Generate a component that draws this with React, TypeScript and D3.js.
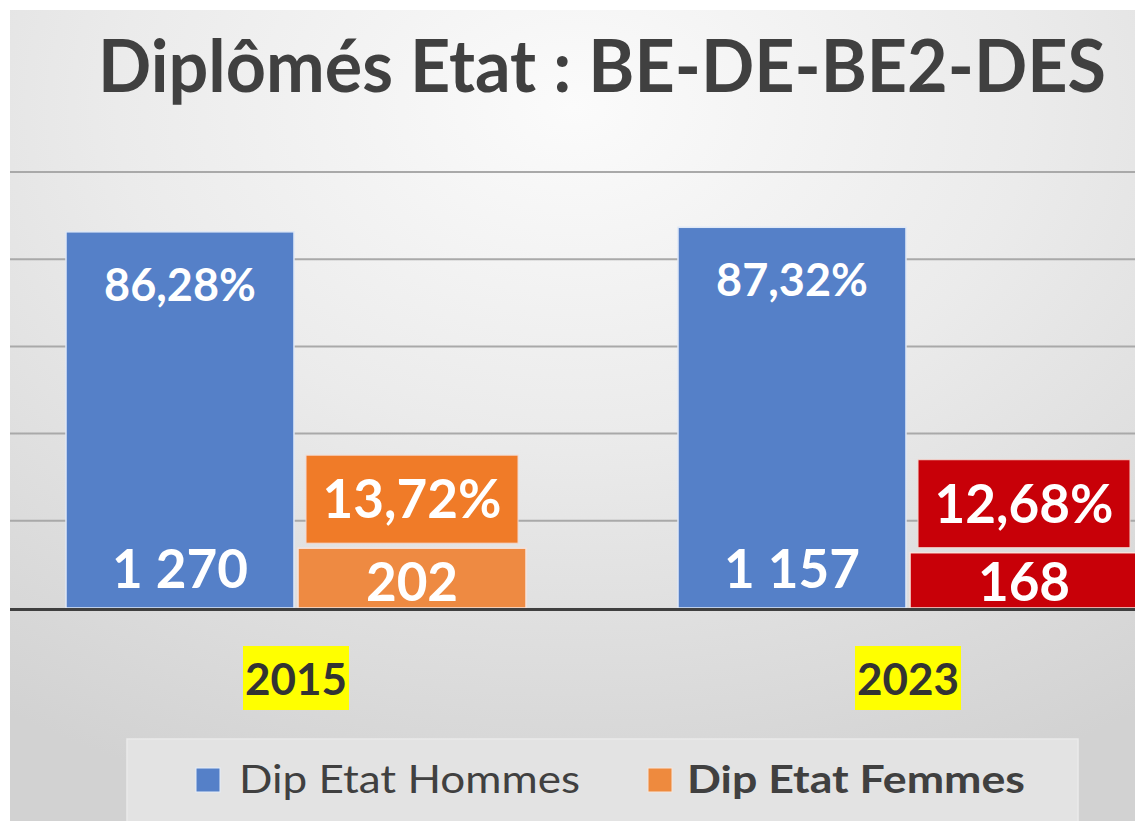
import React from 'react';
import * as d3 from 'd3';

const years = ['2015', '2023'];
const series = ['Dip Etat Hommes', 'Dip Etat Femmes'];
const hommesPct = [86.28, 87.32];
const femmesPct = [13.72, 12.68];
const hommesCount = [1270, 1157];
const femmesCount = [202, 168];
const yTicks = [20, 40, 60, 80, 100];

const blue = '#5580C8';
const femmesBarColors = ['#EE8A42', '#C80008'];
const femmesBoxColors = ['#F07B28', '#C80008'];
const legendColors = ['#5580C8', '#EE8A3E'];

const fr = d3.formatLocale({ decimal: ',', thousands: '\u00a0', grouping: [3], currency: ['', ' €'] });
const fmtPct = (v: number) => fr.format('.2f')(v) + '%';
const fmtCount = (v: number) => fr.format(',d')(v);

export default function App() {
  const W = 1135;
  const H = 821;
  const x = d3.scaleBand<string>().domain(years).range([-10, 1214]);
  const groupW = 460;
  const xs = d3.scaleBand<string>().domain(series).range([0, groupW]).paddingInner(0.0175);
  const off = (x.bandwidth() - groupW) / 2;
  const y = d3.scaleLinear().domain([0, 100]).range([608, 172]);
  const bw = xs.bandwidth();
  const font = 'Lato, "Open Sans", sans-serif';

  return (
    <svg width={W} height={H} style={{ position: 'absolute', left: 0, top: 0, background: '#fff' }}>
      <defs>
        <radialGradient id="bg" cx="50%" cy="12%" r="90%" fx="50%" fy="12%">
          <stop offset="0%" stopColor="#fbfbfb" />
          <stop offset="45%" stopColor="#ebebeb" />
          <stop offset="100%" stopColor="#d2d2d2" />
        </radialGradient>
        <clipPath id="panel">
          <rect x={10} y={10} width={W - 10} height={H - 10} />
        </clipPath>
      </defs>
      <rect x={10} y={10} width={W - 10} height={H - 10} fill="url(#bg)" />
      <g clipPath="url(#panel)">
        {/* title */}
        <text x={98} y={92} fontFamily={font} fontWeight={700} fontSize={72} fill="#404040"
          textLength={1008} lengthAdjust="spacingAndGlyphs">
          Diplômés Etat : BE-DE-BE2-DES
        </text>

        {/* gridlines */}
        {yTicks.map((t) => (
          <line key={t} x1={10} x2={W} y1={y(t)} y2={y(t)} stroke="#a9a9a9" strokeWidth={2} />
        ))}

        {/* bars */}
        {years.map((yr, i) => {
          const gx = (x(yr) as number) + off;
          const hx = gx + (xs(series[0]) as number);
          const fx = gx + (xs(series[1]) as number);
          const hc = hx + bw / 2;
          const fc = fx + bw / 2;
          const boxW = 212;
          const boxH = 88;
          const boxBottom = y(femmesPct[i]) - 5;
          return (
            <g key={yr}>
              <rect x={hx} y={y(hommesPct[i])} width={bw} height={y(0) - y(hommesPct[i])}
                fill={blue} stroke="#dfe8f6" strokeWidth={1.5} />
              <rect x={fx} y={y(femmesPct[i])} width={bw} height={y(0) - y(femmesPct[i])}
                fill={femmesBarColors[i]} stroke="#f6e3dc" strokeWidth={1.5} />
              <text x={hc} y={y(hommesPct[i]) + 69} textAnchor="middle" fontFamily={font}
                fontWeight={700} fontSize={45} fill="#fff">{fmtPct(hommesPct[i])}</text>
              <text x={hc} y={y(0) - 20} textAnchor="middle" fontFamily={font}
                fontWeight={700} fontSize={53} fill="#fff">{fmtCount(hommesCount[i])}</text>
              <rect x={fc - boxW / 2} y={boxBottom - boxH} width={boxW} height={boxH}
                fill={femmesBoxColors[i]} stroke="#f3d9d0" strokeWidth={1} />
              <text x={fc} y={boxBottom - boxH / 2 + 19} textAnchor="middle" fontFamily={font}
                fontWeight={700} fontSize={53} fill="#fff">{fmtPct(femmesPct[i])}</text>
              <text x={fc} y={y(0) - 7} textAnchor="middle" fontFamily={font}
                fontWeight={700} fontSize={53} fill="#fff">{fmtCount(femmesCount[i])}</text>
            </g>
          );
        })}

        {/* axis line */}
        <line x1={10} x2={W} y1={y(0) + 1.5} y2={y(0) + 1.5} stroke="#3f3f3f" strokeWidth={3} />

        {/* category labels */}
        {years.map((yr) => {
          const cx = (x(yr) as number) + x.bandwidth() / 2;
          return (
            <g key={'lab' + yr}>
              <rect x={cx - 53} y={646} width={106} height={64} fill="#FFFF00" />
              <text x={cx} y={695} textAnchor="middle" fontFamily={font} fontWeight={700}
                fontSize={43} fill="#333" textLength={102} lengthAdjust="spacingAndGlyphs">{yr}</text>
            </g>
          );
        })}

        {/* legend */}
        <rect x={127} y={739} width={951} height={100} fill="#e3e3e3" stroke="#eaeaea" strokeWidth={1.5} />
        <rect x={196} y={768} width={24} height={24} fill={legendColors[0]} stroke="#e6eefa" strokeWidth={1} />
        <text x={239} y={793} fontFamily={font} fontSize={38} fill="#404040"
          textLength={341} lengthAdjust="spacingAndGlyphs">{series[0]}</text>
        <rect x={648} y={768} width={24} height={24} fill={legendColors[1]} stroke="#f7e6da" strokeWidth={1} />
        <text x={687} y={793} fontFamily={font} fontWeight={700} fontSize={38} fill="#404040"
          textLength={338} lengthAdjust="spacingAndGlyphs">{series[1]}</text>
      </g>
    </svg>
  );
}
